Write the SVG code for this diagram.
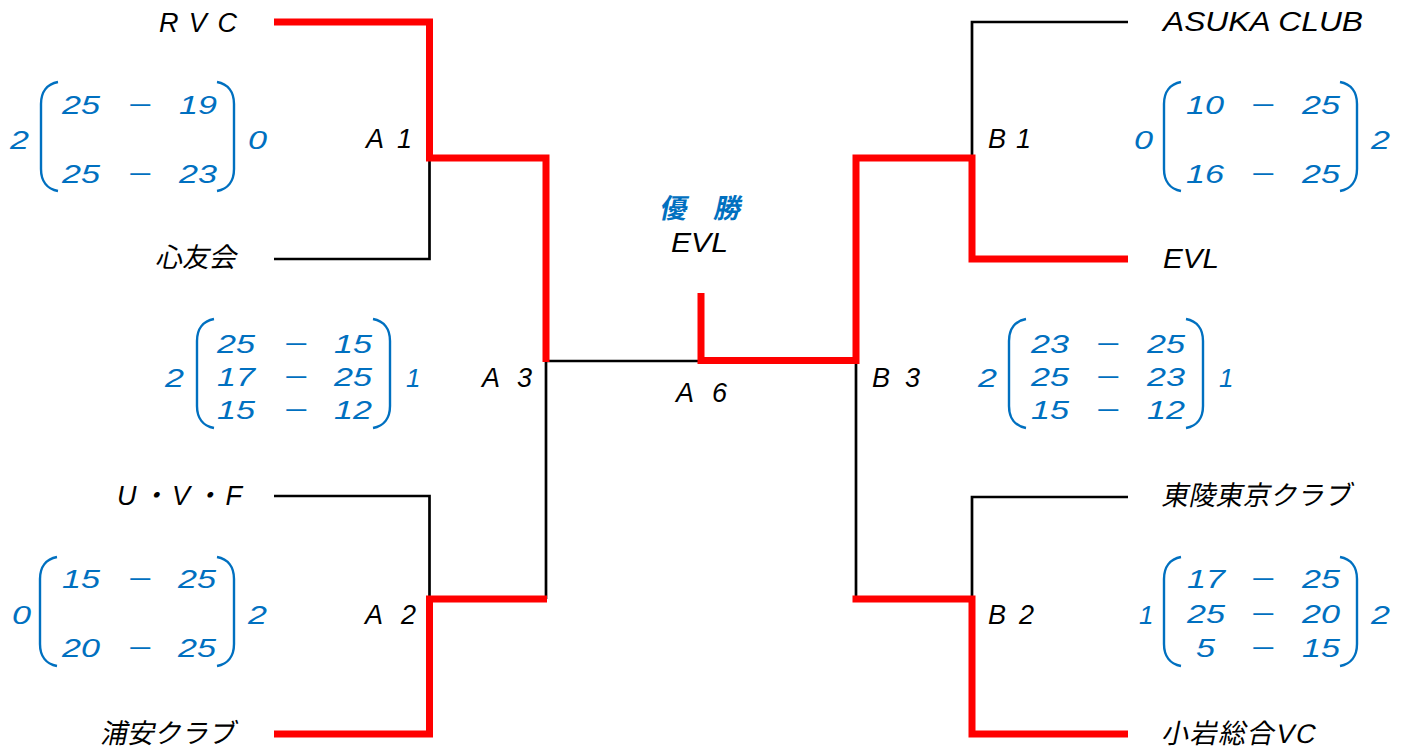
<svg xmlns="http://www.w3.org/2000/svg" xmlns:xlink="http://www.w3.org/1999/xlink" width="1408" height="753" viewBox="0 0 1408 753">
<style>
.t{font-family:"Liberation Sans","Noto Sans CJK JP",sans-serif;font-style:italic;font-size:27px;fill:#000}
.j{font-family:"Liberation Sans","Noto Sans CJK JP",sans-serif;font-style:normal;font-size:27px;fill:#000}
.s{font-family:"Liberation Sans","Noto Sans CJK JP",sans-serif;font-style:italic;font-size:26px;fill:#0070C0}
.w{font-family:"Liberation Sans","Noto Sans CJK JP",sans-serif;font-style:normal;font-weight:bold;font-size:27px;fill:#0070C0}
.red{stroke:#FF0000;stroke-width:7;fill:none;stroke-linejoin:miter}
.blk{stroke:#000;stroke-width:2.7;fill:none;stroke-linejoin:miter}
.par{stroke:#0070C0;stroke-width:2.4;fill:none}
</style>
<defs>
<path id="lp" class="par" d="M17,0 C6,2 0,10 0,22 V87 C0,99 6,107 17,109"/>
<path id="rp" class="par" d="M0,0 C11,2 17,10 17,22 V87 C17,99 11,107 0,109"/>
</defs>
<rect width="1408" height="753" fill="#fff"/>

<g id="connectors">
<path class="blk" d="M274,259 H429.5 V158"/>
<path class="blk" d="M546,361 H701"/>
<path class="blk" d="M546,361 V599"/>
<path class="blk" d="M274,496 H429.5 V599"/>
<path class="blk" d="M972,158 V22 H1128"/>
<path class="blk" d="M856,361 V599"/>
<path class="blk" d="M972,599 V497 H1128"/>
<path class="red" d="M274,22 H429.5 V158 H546 V362"/>
<path class="red" d="M274,734 H429.5 V599 H547"/>
<path class="red" d="M701,293 V360.5 H856 V158 H972 V259 H1128"/>
<path class="red" d="M852.5,599 H972 V734 H1128"/>
</g>

<g id="team-rvc"><text class="t" x="159" y="32" textLength="78">RVC</text></g>
<g id="team-shinyukai"><text class="j" transform="translate(155,267) skewX(-12)">心友会</text></g>
<g id="team-uvf"><text class="t" x="117" y="505" textLength="125">U・V・F</text></g>
<g id="team-urayasu"><text class="j" transform="translate(100,743) skewX(-12)">浦安クラブ</text></g>
<g id="team-asuka"><text class="t" x="1163" y="31" textLength="200" lengthAdjust="spacingAndGlyphs">ASUKA CLUB</text></g>
<g id="team-evl"><text class="t" x="1163" y="268" textLength="56" lengthAdjust="spacingAndGlyphs">EVL</text></g>
<g id="team-toryo"><text class="j" transform="translate(1161,505) skewX(-12)" textLength="190">東陵東京クラブ</text></g>
<g id="team-koiwa"><text class="j" transform="translate(1161,743) skewX(-12)" textLength="153">小岩総合VC</text></g>

<g id="match-a1"><text class="t" x="366" y="148" textLength="46">A1</text></g>
<g id="match-a2"><text class="t" x="365" y="624" textLength="51">A2</text></g>
<g id="match-a3"><text class="t" x="482" y="387" textLength="50">A3</text></g>
<g id="match-a6"><text class="t" x="676" y="402" textLength="51">A6</text></g>
<g id="match-b1"><text class="t" x="988" y="148" textLength="43">B1</text></g>
<g id="match-b2"><text class="t" x="988" y="624" textLength="46">B2</text></g>
<g id="match-b3"><text class="t" x="872" y="387" textLength="48">B3</text></g>

<g id="champion">
<text class="w" transform="translate(659,218) skewX(-12)">優　勝</text>
<text class="t" x="671" y="252" textLength="57" lengthAdjust="spacingAndGlyphs">EVL</text>
</g>

<g id="score-a1">
<use xlink:href="#lp" href="#lp" x="41" y="82"/><use xlink:href="#rp" href="#rp" x="217" y="82"/>
<text class="s" x="10" y="149" textLength="19" lengthAdjust="spacingAndGlyphs">2</text>
<text class="s" x="248" y="149" textLength="19" lengthAdjust="spacingAndGlyphs">0</text>
<text class="s" x="62" y="114" textLength="38" lengthAdjust="spacingAndGlyphs">25</text>
<text class="s" x="140" y="114" text-anchor="middle" textLength="24" lengthAdjust="spacingAndGlyphs">−</text>
<text class="s" x="179" y="114" textLength="38" lengthAdjust="spacingAndGlyphs">19</text>
<text class="s" x="62" y="183" textLength="38" lengthAdjust="spacingAndGlyphs">25</text>
<text class="s" x="140" y="183" text-anchor="middle" textLength="24" lengthAdjust="spacingAndGlyphs">−</text>
<text class="s" x="179" y="183" textLength="38" lengthAdjust="spacingAndGlyphs">23</text>
</g>

<g id="score-a3">
<use xlink:href="#lp" href="#lp" x="197" y="319"/><use xlink:href="#rp" href="#rp" x="373" y="319"/>
<text class="s" x="165" y="387" textLength="19" lengthAdjust="spacingAndGlyphs">2</text>
<text class="s" x="406" y="387">1</text>
<text class="s" x="217" y="353" textLength="38" lengthAdjust="spacingAndGlyphs">25</text>
<text class="s" x="296" y="353" text-anchor="middle" textLength="24" lengthAdjust="spacingAndGlyphs">−</text>
<text class="s" x="334" y="353" textLength="38" lengthAdjust="spacingAndGlyphs">15</text>
<text class="s" x="217" y="386" textLength="38" lengthAdjust="spacingAndGlyphs">17</text>
<text class="s" x="296" y="386" text-anchor="middle" textLength="24" lengthAdjust="spacingAndGlyphs">−</text>
<text class="s" x="334" y="386" textLength="38" lengthAdjust="spacingAndGlyphs">25</text>
<text class="s" x="217" y="419" textLength="38" lengthAdjust="spacingAndGlyphs">15</text>
<text class="s" x="296" y="419" text-anchor="middle" textLength="24" lengthAdjust="spacingAndGlyphs">−</text>
<text class="s" x="334" y="419" textLength="38" lengthAdjust="spacingAndGlyphs">12</text>
</g>

<g id="score-a2">
<use xlink:href="#lp" href="#lp" x="40" y="557"/><use xlink:href="#rp" href="#rp" x="217" y="557"/>
<text class="s" x="12" y="624" textLength="19" lengthAdjust="spacingAndGlyphs">0</text>
<text class="s" x="248" y="624" textLength="19" lengthAdjust="spacingAndGlyphs">2</text>
<text class="s" x="62" y="588" textLength="38" lengthAdjust="spacingAndGlyphs">15</text>
<text class="s" x="140" y="588" text-anchor="middle" textLength="24" lengthAdjust="spacingAndGlyphs">−</text>
<text class="s" x="178" y="588" textLength="38" lengthAdjust="spacingAndGlyphs">25</text>
<text class="s" x="62" y="657" textLength="38" lengthAdjust="spacingAndGlyphs">20</text>
<text class="s" x="140" y="657" text-anchor="middle" textLength="24" lengthAdjust="spacingAndGlyphs">−</text>
<text class="s" x="178" y="657" textLength="38" lengthAdjust="spacingAndGlyphs">25</text>
</g>

<g id="score-b1">
<use xlink:href="#lp" href="#lp" x="1164" y="82"/><use xlink:href="#rp" href="#rp" x="1340" y="82"/>
<text class="s" x="1134" y="149" textLength="19" lengthAdjust="spacingAndGlyphs">0</text>
<text class="s" x="1371" y="149" textLength="19" lengthAdjust="spacingAndGlyphs">2</text>
<text class="s" x="1186" y="114" textLength="38" lengthAdjust="spacingAndGlyphs">10</text>
<text class="s" x="1263" y="114" text-anchor="middle" textLength="24" lengthAdjust="spacingAndGlyphs">−</text>
<text class="s" x="1302" y="114" textLength="38" lengthAdjust="spacingAndGlyphs">25</text>
<text class="s" x="1186" y="183" textLength="38" lengthAdjust="spacingAndGlyphs">16</text>
<text class="s" x="1263" y="183" text-anchor="middle" textLength="24" lengthAdjust="spacingAndGlyphs">−</text>
<text class="s" x="1302" y="183" textLength="38" lengthAdjust="spacingAndGlyphs">25</text>
</g>

<g id="score-b3">
<use xlink:href="#lp" href="#lp" x="1009" y="319"/><use xlink:href="#rp" href="#rp" x="1186" y="319"/>
<text class="s" x="978" y="387" textLength="19" lengthAdjust="spacingAndGlyphs">2</text>
<text class="s" x="1219" y="387">1</text>
<text class="s" x="1031" y="353" textLength="38" lengthAdjust="spacingAndGlyphs">23</text>
<text class="s" x="1108" y="353" text-anchor="middle" textLength="24" lengthAdjust="spacingAndGlyphs">−</text>
<text class="s" x="1147" y="353" textLength="38" lengthAdjust="spacingAndGlyphs">25</text>
<text class="s" x="1031" y="386" textLength="38" lengthAdjust="spacingAndGlyphs">25</text>
<text class="s" x="1108" y="386" text-anchor="middle" textLength="24" lengthAdjust="spacingAndGlyphs">−</text>
<text class="s" x="1147" y="386" textLength="38" lengthAdjust="spacingAndGlyphs">23</text>
<text class="s" x="1031" y="419" textLength="38" lengthAdjust="spacingAndGlyphs">15</text>
<text class="s" x="1108" y="419" text-anchor="middle" textLength="24" lengthAdjust="spacingAndGlyphs">−</text>
<text class="s" x="1147" y="419" textLength="38" lengthAdjust="spacingAndGlyphs">12</text>
</g>

<g id="score-b2">
<use xlink:href="#lp" href="#lp" x="1164" y="557"/><use xlink:href="#rp" href="#rp" x="1340" y="557"/>
<text class="s" x="1139" y="624">1</text>
<text class="s" x="1371" y="624" textLength="19" lengthAdjust="spacingAndGlyphs">2</text>
<text class="s" x="1187" y="588" textLength="38" lengthAdjust="spacingAndGlyphs">17</text>
<text class="s" x="1263" y="588" text-anchor="middle" textLength="24" lengthAdjust="spacingAndGlyphs">−</text>
<text class="s" x="1302" y="588" textLength="38" lengthAdjust="spacingAndGlyphs">25</text>
<text class="s" x="1187" y="623" textLength="38" lengthAdjust="spacingAndGlyphs">25</text>
<text class="s" x="1263" y="623" text-anchor="middle" textLength="24" lengthAdjust="spacingAndGlyphs">−</text>
<text class="s" x="1302" y="623" textLength="38" lengthAdjust="spacingAndGlyphs">20</text>
<text class="s" x="1196" y="657" textLength="19" lengthAdjust="spacingAndGlyphs">5</text>
<text class="s" x="1263" y="657" text-anchor="middle" textLength="24" lengthAdjust="spacingAndGlyphs">−</text>
<text class="s" x="1302" y="657" textLength="38" lengthAdjust="spacingAndGlyphs">15</text>
</g>
</svg>
